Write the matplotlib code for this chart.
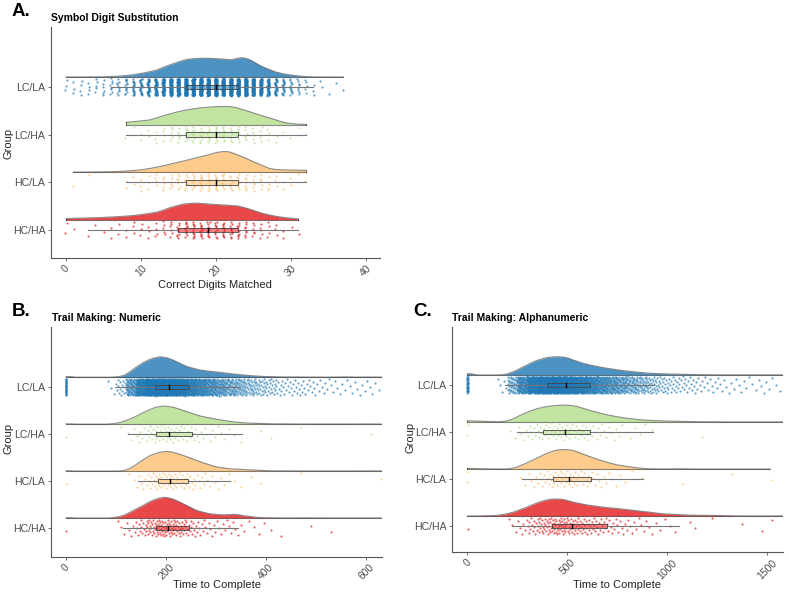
import numpy as np
import matplotlib
matplotlib.use('Agg')
import matplotlib.pyplot as plt
from matplotlib.patches import Rectangle

plt.rcParams['font.family'] = ['Liberation Sans', 'DejaVu Sans']

# groups bottom -> top
groups = ['HC/HA', 'HC/LA', 'LC/HA', 'LC/LA']
colors = {'LC/LA': '#1F78B4', 'LC/HA': '#B2DF8A', 'HC/LA': '#FDBF6F', 'HC/HA': '#E31A1C'}

# ---- A. Symbol Digit Substitution ----
sds_dens_x = {
    'LC/LA': [0, 3, 5, 7, 9, 10.5, 12, 13, 14.3, 15.2, 16, 17, 18.3, 19.2, 20, 21, 22, 22.8, 23.4, 24, 24.5, 25.2, 26, 27, 28, 29, 30.3, 31.5, 33, 37],
    'LC/HA': [8, 9.5, 11.2, 12.3, 13.4, 14.5, 15.6, 16.8, 17.9, 19, 20.1, 21, 21.9, 22.8, 23.6, 24.5, 25.4, 26.5, 27.6, 28.5, 29.4, 30.8, 32],
    'HC/LA': [1, 4, 6.8, 8.5, 9.9, 11.2, 12.5, 13.7, 14.8, 16, 17, 18, 18.8, 19.5, 20.1, 21, 21.7, 22.3, 23.2, 24.1, 25, 25.9, 26.6, 27.2, 28, 29, 30.5, 32],
    'HC/HA': [0, 2, 4.5, 7, 8.9, 10.5, 12.1, 13, 13.9, 14.8, 15.6, 17, 18, 19.2, 20.3, 21.4, 22.8, 23.7, 24.5, 25.4, 26.3, 27.4, 28.5, 29.8, 31],
}
sds_dens_h = {
    'LC/LA': [0, 0.1, 0.2, 0.8, 2.3, 4.2, 6.7, 9.8, 13.3, 15.6, 17.3, 18.3, 18.7, 18.6, 18.3, 17.8, 17.2, 18.4, 19.3, 18.6, 17.3, 14.5, 11, 7.8, 5, 3.1, 1.7, 0.7, 0.1, 0],
    'LC/HA': [2.3, 3.3, 4.7, 7.2, 9.7, 12, 14, 15.5, 16.7, 17.4, 18, 18.1, 18, 16.8, 15, 12.9, 10.7, 8.1, 5.7, 3.5, 1.7, 0.5, 0.2],
    'HC/LA': [0.1, 0.3, 0.7, 1.4, 2.3, 3.8, 5.7, 7.7, 9.7, 11.8, 13.7, 15.5, 17, 18.5, 19.7, 20.7, 20.5, 19, 16.5, 13.7, 10.5, 7.7, 5.5, 3.7, 2.8, 2.3, 2.1, 2.0],
    'HC/HA': [1.3, 1.8, 2.3, 3.3, 4.3, 5.8, 7.7, 9.8, 12.3, 14.2, 15.7, 16.7, 16.5, 15.7, 15.2, 14.7, 14, 12.5, 10.7, 8.5, 6.3, 4.5, 3, 1.8, 1],
}
# lo whisker, q1, median, q3, hi whisker
sds_box = {'LC/LA': [6, 16, 20, 23, 33], 'LC/HA': [8, 16, 20, 23, 32],
           'HC/LA': [8, 16, 20, 23, 32], 'HC/HA': [3, 15, 19, 23, 31]}
sds_scores = list(range(38))
sds_counts = {
    'LC/LA': [3, 3, 4, 4, 5, 6, 8, 10, 14, 20, 28, 40, 55, 75, 100, 120, 135, 140, 140, 140, 140, 135, 135, 145, 135, 110, 80, 55, 35, 22, 14, 8, 5, 3, 2, 1, 1, 1],
    'LC/HA': [0, 0, 0, 0, 0, 0, 0, 0, 1, 1, 2, 2, 3, 4, 5, 6, 7, 8, 8, 9, 9, 9, 8, 7, 6, 5, 4, 3, 2, 1, 1, 1, 1, 0, 0, 0, 0, 0],
    'HC/LA': [0, 1, 0, 1, 0, 0, 0, 0, 2, 2, 3, 3, 4, 5, 6, 7, 8, 9, 10, 10, 10, 10, 9, 8, 7, 6, 5, 4, 3, 2, 2, 1, 1, 0, 0, 0, 0, 0],
    'HC/HA': [2, 1, 0, 1, 1, 1, 2, 2, 2, 3, 3, 3, 4, 5, 6, 10, 12, 12, 12, 11, 11, 11, 11, 10, 8, 6, 5, 4, 3, 2, 1, 1, 0, 0, 0, 0, 0, 0],
}

# ---- B. Trail Making: Numeric ----
tmn_dens_x = {
    'LC/LA': [0, 10, 20, 90, 105, 115, 125, 135, 145, 155, 165, 175, 188, 201, 211, 221, 231, 241, 255, 268, 285, 301, 318, 335, 350, 368, 385, 401, 435, 470, 521, 560, 580, 600, 640],
    'LC/HA': [0, 10, 20, 80, 95, 108, 121, 135, 148, 161, 171, 181, 195, 205, 215, 228, 241, 255, 268, 285, 301, 318, 335, 350, 368, 395, 421, 488, 560, 600, 640],
    'HC/LA': [0, 10, 20, 100, 111, 120, 128, 138, 148, 158, 168, 178, 188, 201, 211, 221, 235, 248, 262, 275, 288, 301, 315, 328, 348, 368, 408, 448, 500, 620, 640],
    'HC/HA': [0, 10, 20, 85, 95, 105, 115, 128, 141, 155, 168, 178, 188, 198, 206, 215, 225, 235, 248, 261, 275, 288, 301, 315, 325, 335, 345, 355, 368, 381, 400, 421, 440, 480, 520, 560, 640],
}
tmn_dens_h = {
    'LC/LA': [0.6, 0.6, 0, 0, 0.6, 1.7, 4.5, 8.3, 11.8, 15, 17.5, 19.3, 20.7, 19.7, 18, 15.7, 13.3, 11, 9, 7.3, 6.2, 5.3, 4.3, 3.3, 2.5, 1.7, 1.1, 0.7, 0.3, 0.2, 0.1, 0.3, 0.1, 0.2, 0.1],
    'LC/HA': [0.3, 0.3, 0, 0, 0.5, 1.7, 3.8, 6.7, 10, 13.3, 15.5, 17.3, 18.3, 17.9, 17, 15, 12.7, 10.4, 8.3, 6.5, 5, 3.6, 2.3, 1.6, 1, 0.6, 0.3, 0.1, 0.1, 0.2, 0.1],
    'HC/LA': [0.3, 0.3, 0, 0, 0.2, 1.2, 2.7, 5.8, 9.3, 12.7, 15.7, 17.6, 19, 20, 19.3, 18, 15.8, 13.3, 10.7, 8.3, 6.2, 4.3, 3.2, 2.3, 1.8, 1.3, 0.3, 0.2, 0.1, 0.2, 0.1],
    'HC/HA': [0.3, 0.3, 0, 0, 0.5, 1.3, 2.7, 5.8, 9.3, 13, 16.7, 18.8, 20.3, 21, 20.3, 19, 16.8, 14.3, 11, 7.7, 5.8, 4.3, 3.6, 3.3, 3.4, 3.7, 3.4, 2.3, 1.6, 0.7, 0.3, 0.2, 0.1, 0.2, 0.1, 0.1, 0.1],
}
tmn_box = {'LC/LA': [98, 178, 205, 246, 348], 'LC/HA': [123, 179, 205, 251, 351],
           'HC/LA': [143, 183, 208, 243, 327], 'HC/HA': [113, 179, 203, 245, 343]}
tmn_edges = [0, 1, 80] + list(range(100, 641, 20))
tmn_counts = {
    'LC/LA': [30, 0, 3, 15, 70, 150, 220, 240, 220, 180, 140, 110, 85, 65, 50, 40, 30, 22, 18, 12, 10, 9, 8, 6, 5, 4, 4, 4, 4, 2],
    'LC/HA': [1, 0, 0, 1, 3, 6, 10, 12, 11, 9, 7, 5, 4, 3, 2, 1, 0, 1, 1, 0, 0, 1, 0, 0, 0, 0, 0, 0, 1, 0],
    'HC/LA': [1, 0, 0, 0, 2, 5, 10, 14, 13, 11, 8, 6, 4, 3, 2, 1, 1, 1, 0, 0, 0, 1, 0, 0, 0, 0, 0, 0, 0, 1],
    'HC/HA': [1, 0, 0, 3, 5, 12, 20, 25, 22, 18, 12, 8, 6, 5, 5, 3, 2, 2, 1, 1, 0, 0, 1, 0, 1, 0, 0, 0, 0, 0],
}

# ---- C. Trail Making: Alphanumeric ----
tma_dens_x = {
    'LC/LA': [0, 15, 30, 50, 150, 180, 205, 230, 255, 280, 305, 330, 355, 380, 405, 430, 455, 480, 505, 530, 555, 580, 620, 663, 705, 747, 790, 830, 870, 913, 1000, 1080, 1180, 1280, 1600],
    'LC/HA': [0, 30, 80, 120, 163, 190, 213, 238, 263, 288, 313, 345, 380, 413, 447, 472, 497, 522, 547, 580, 613, 655, 697, 740, 780, 820, 863, 930, 997, 1080, 1163, 1313, 1600],
    'HC/LA': [0, 40, 80, 140, 197, 222, 247, 280, 313, 347, 380, 405, 430, 455, 480, 505, 530, 555, 580, 620, 663, 705, 747, 790, 830, 870, 913, 1000, 1063, 1110, 1163, 1513],
    'HC/HA': [0, 80, 147, 190, 230, 263, 297, 322, 347, 372, 397, 418, 438, 460, 480, 505, 530, 563, 597, 640, 680, 730, 780, 830, 880, 930, 980, 1050, 1113, 1180, 1247, 1347, 1600],
}
tma_dens_h = {
    'LC/LA': [1.3, 1.3, 0.8, 0, 0, 0.3, 1.5, 3.3, 5.7, 8.3, 10.8, 13.3, 15.2, 16.7, 17.7, 18.3, 18.4, 18, 17, 15, 13.3, 11.7, 9.8, 8, 6.6, 5.3, 4.2, 3.3, 2.5, 1.7, 1.1, 0.7, 0.3, 0.1, 0.1],
    'LC/HA': [1.3, 1.0, 0.7, 0.4, 0.3, 0.8, 2, 4, 6.7, 8.9, 11, 13.2, 15, 16.1, 16.7, 17, 17, 16.6, 15.7, 13.8, 11.7, 9.4, 7.3, 5.7, 4.3, 3.3, 2.3, 1.5, 1, 0.6, 0.3, 0.1, 0.1],
    'HC/LA': [0.7, 0.5, 0.3, 0.1, 0, 0.7, 2, 4.7, 7.7, 11, 14.3, 16.5, 18.3, 19.3, 19.7, 19.5, 18.7, 17, 15, 12, 9, 6.5, 4.3, 2.9, 1.7, 0.8, 0.2, 0.1, 0.3, 0.1, 0, 0],
    'HC/HA': [0, 0.3, 0.7, 2, 4, 6.5, 9, 11.2, 13.3, 15, 16.3, 17, 17.3, 17.2, 16.7, 15.5, 14, 12.7, 11.3, 10.1, 9, 8, 7, 5.8, 4.7, 3.5, 2.3, 1.6, 1, 0.8, 0.7, 0.2, 0.1],
}
tma_box = {'LC/LA': [188, 397, 492, 613, 935], 'LC/HA': [247, 377, 488, 613, 927],
           'HC/LA': [272, 430, 508, 617, 880], 'HC/HA': [222, 425, 522, 697, 1060]}
tma_edges = [0, 1, 150] + list(range(200, 1601, 50))
tma_counts = {
    'LC/LA': [30, 0, 5, 40, 100, 160, 200, 210, 200, 180, 150, 120, 95, 75, 60, 45, 35, 25, 18, 14, 12, 10, 7, 6, 5, 4, 4, 3, 4, 3, 2],
    'LC/HA': [2, 0, 0, 2, 4, 7, 9, 10, 10, 9, 8, 6, 5, 4, 3, 2, 2, 1, 0, 0, 0, 0, 1, 0, 0, 0, 0, 0, 0, 0, 0],
    'HC/LA': [2, 0, 0, 0, 2, 4, 7, 10, 11, 10, 8, 6, 4, 3, 2, 1, 1, 0, 0, 0, 1, 0, 0, 0, 0, 1, 0, 0, 0, 1, 0],
    'HC/HA': [1, 0, 0, 3, 6, 12, 18, 22, 22, 18, 15, 12, 10, 8, 6, 5, 4, 3, 2, 2, 0, 2, 0, 1, 0, 0, 1, 0, 1, 1, 0],
}


def spread(n, amp, phase, step=0.6180339887):
    # deterministic jitter in [-amp, amp]
    i = np.arange(n)
    return (((i * step + phase) % 1) - 0.5) * 2 * amp


def bin_points(edges, counts):
    xs = []
    for lo, hi, n in zip(edges[:-1], edges[1:], counts):
        if n:
            xs.extend(lo + (np.arange(n) + 0.5) / n * (hi - lo))
    return np.array(xs)


def draw_panel(ax, dens_x, dens_h, box, pts, xlim, xticks, ylim):
    px_unit = 47.5
    for pos, g in enumerate(groups, start=1):
        c = colors[g]
        base = pos + 0.21
        x = np.array(dens_x[g], dtype=float)
        top = base + np.array(dens_h[g]) / px_unit
        ax.fill_between(x, base, top, color=c, alpha=0.8, lw=0, zorder=1)
        ax.plot(x, top, color='black', alpha=0.45, lw=0.8, zorder=1.5)
        ax.plot([x[0], x[-1]], [base, base], color='black', alpha=0.45, lw=0.8, zorder=1.5)
        ax.plot([x[0], x[0]], [base, top[0]], color='black', alpha=0.45, lw=0.8, zorder=1.5)
        ax.plot([x[-1], x[-1]], [base, top[-1]], color='black', alpha=0.45, lw=0.8, zorder=1.5)

        xs = pts[g]
        ys = pos + spread(len(xs), 0.18, 0.31)
        ax.scatter(xs, ys, s=2.4, color=c, alpha=0.7, linewidths=0, zorder=2)

        lo, q1, med, q3, hi = box[g]
        ax.plot([lo, q1], [pos, pos], color='#777777', lw=0.8, zorder=3)
        ax.plot([q3, hi], [pos, pos], color='#777777', lw=0.8, zorder=3)
        ax.add_patch(Rectangle((q1, pos - 0.05), q3 - q1, 0.1, facecolor=c, alpha=0.55,
                               edgecolor='none', zorder=3))
        ax.add_patch(Rectangle((q1, pos - 0.05), q3 - q1, 0.1, facecolor='none',
                               edgecolor='#444444', lw=0.6, zorder=3.1))
        ax.plot([med, med], [pos - 0.05, pos + 0.05], color='black', lw=1.0, zorder=3.2)

    ax.set_xlim(*xlim)
    ax.set_ylim(*ylim)
    ax.set_yticks(range(1, 5))
    ax.set_yticklabels(groups, fontsize=7.6, color='#4d4d4d')
    ax.set_xticks(xticks)
    ax.set_xticklabels([str(t) for t in xticks], rotation=45, ha='center', va='top',
                       fontsize=7.5, color='#4d4d4d')
    for s in ['top', 'right']:
        ax.spines[s].set_visible(False)
    for s in ['left', 'bottom']:
        ax.spines[s].set_color('#555555')
        ax.spines[s].set_linewidth(0.8)
    ax.tick_params(axis='both', length=2.5, width=0.6, color='#555555', pad=1.5)


fig = plt.figure(figsize=(7.89, 5.98), dpi=100)
W, H = 789.0, 598.0


def add_axes(l, r, t, b):
    return fig.add_axes([l / W, 1 - b / H, (r - l) / W, (b - t) / H])


axA = add_axes(51, 380, 27, 258)
ptsA = {g: np.repeat(sds_scores, sds_counts[g]) + spread(sum(sds_counts[g]), 0.15, 0.1, 0.7548776662)
        for g in groups}
draw_panel(axA, sds_dens_x, sds_dens_h, sds_box, ptsA, (-2.0, 41.9), [0, 10, 20, 30, 40], (0.41, 5.26))

axB = add_axes(51, 382, 327, 557)
ptsB = {g: bin_points(tmn_edges, tmn_counts[g]) for g in groups}
draw_panel(axB, tmn_dens_x, tmn_dens_h, tmn_box, ptsB, (-30, 632), [0, 200, 400, 600], (0.38, 5.28))

axC = add_axes(452, 783, 327, 552)
ptsC = {g: bin_points(tma_edges, tma_counts[g]) for g in groups}
draw_panel(axC, tma_dens_x, tma_dens_h, tma_box, ptsC, (-77, 1578), [0, 500, 1000, 1500], (0.447, 5.23))


# letters, titles, axis labels
def ftext(x, y, s, **kw):
    fig.text(x / W, 1 - y / H, s, **kw)


ftext(12, 12, 'A.', fontsize=13.5, fontweight='bold', va='center', ha='left')
ftext(12, 311, 'B.', fontsize=13.5, fontweight='bold', va='center', ha='left')
ftext(413, 311, 'C.', fontsize=13.5, fontweight='bold', va='center', ha='left')

ftext(51, 18, 'Symbol Digit Substitution', fontsize=7.5, fontweight='bold', va='center', ha='left')
ftext(52, 318, 'Trail Making: Numeric', fontsize=7.5, fontweight='bold', va='center', ha='left')
ftext(452, 318, 'Trail Making: Alphanumeric', fontsize=7.5, fontweight='bold', va='center', ha='left')

ftext(215, 285, 'Correct Digits Matched', fontsize=8, color='#222222', va='center', ha='center')
ftext(217, 585, 'Time to Complete', fontsize=8, color='#222222', va='center', ha='center')
ftext(617, 585, 'Time to Complete', fontsize=8, color='#222222', va='center', ha='center')

ftext(9, 143, 'Group', fontsize=8, color='#222222', va='center', ha='center', rotation=90)
ftext(9, 438, 'Group', fontsize=8, color='#222222', va='center', ha='center', rotation=90)
ftext(410, 437, 'Group', fontsize=8, color='#222222', va='center', ha='center', rotation=90)

fig.savefig('out.png', dpi=100)
